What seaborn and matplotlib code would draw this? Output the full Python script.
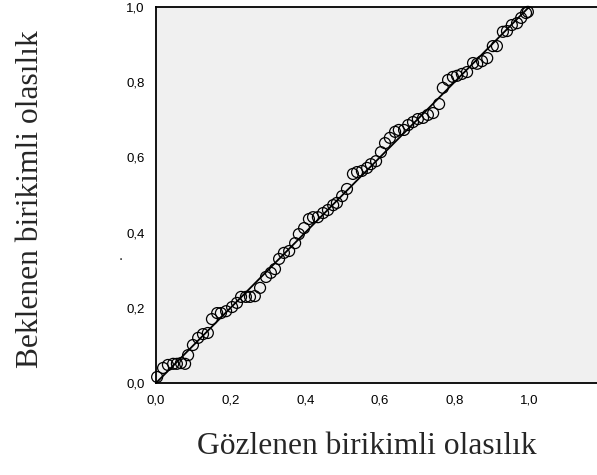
import matplotlib
matplotlib.use("Agg")
import matplotlib.pyplot as plt
import numpy as np
import pandas as pd
import seaborn as sns

# Observed vs expected cumulative probabilities (P-P plot)
observed = [
    0.003, 0.019, 0.032, 0.046, 0.056, 0.067, 0.078, 0.086, 0.099, 0.113,
    0.126, 0.139, 0.150, 0.164, 0.174, 0.188, 0.204, 0.217, 0.228, 0.241,
    0.252, 0.265, 0.279, 0.295, 0.308, 0.319, 0.330, 0.343, 0.357, 0.373,
    0.383, 0.397, 0.410, 0.421, 0.434, 0.448, 0.461, 0.475, 0.485, 0.499,
    0.512, 0.528, 0.539, 0.552, 0.566, 0.576, 0.590, 0.603, 0.614, 0.627,
    0.641, 0.651, 0.665, 0.676, 0.689, 0.702, 0.716, 0.729, 0.743, 0.759,
    0.769, 0.783, 0.796, 0.807, 0.820, 0.834, 0.850, 0.861, 0.874, 0.888,
    0.903, 0.914, 0.930, 0.941, 0.954, 0.968, 0.979, 0.992, 0.997,
]
expected = [
    0.016, 0.040, 0.048, 0.051, 0.051, 0.053, 0.051, 0.074, 0.101, 0.120,
    0.130, 0.133, 0.170, 0.186, 0.186, 0.191, 0.202, 0.213, 0.229, 0.229,
    0.229, 0.231, 0.253, 0.282, 0.293, 0.303, 0.330, 0.346, 0.351, 0.372,
    0.396, 0.412, 0.436, 0.441, 0.441, 0.452, 0.460, 0.473, 0.479, 0.497,
    0.516, 0.556, 0.561, 0.564, 0.572, 0.582, 0.590, 0.614, 0.638, 0.652,
    0.668, 0.673, 0.673, 0.686, 0.694, 0.702, 0.705, 0.713, 0.718, 0.742,
    0.785, 0.806, 0.814, 0.817, 0.822, 0.827, 0.851, 0.849, 0.856, 0.864,
    0.896, 0.896, 0.934, 0.936, 0.952, 0.957, 0.971, 0.984, 0.987,
]
ref_line = [0.0, 1.0]
ticks = [0.0, 0.2, 0.4, 0.6, 0.8, 1.0]
tick_labels = ["0,0", "0,2", "0,4", "0,6", "0,8", "1,0"]

df = pd.DataFrame({"observed": observed, "expected": expected})
line_df = pd.DataFrame({"x": ref_line, "y": ref_line})

sns.set_style("white")
plt.rcParams["font.family"] = ["Liberation Sans", "DejaVu Sans"]

W, H = 597, 475
fig = plt.figure(figsize=(W / 100, H / 100), dpi=100)
left, right, top, bottom = 156, 597, 7, 383
ax = fig.add_axes([left / W, 1 - bottom / H, (right - left) / W, (bottom - top) / H])
ax.set_facecolor("#f0f0f0")

sns.lineplot(data=line_df, x="x", y="y", ax=ax, color="black", linewidth=1.3,
             zorder=2)
sns.scatterplot(data=df, x="observed", y="expected", ax=ax, marker="o",
                s=62, facecolor="none", edgecolor="black", linewidth=0.9,
                zorder=3, clip_on=False)

ax.set_xlim(0, (right - left) / 373)
ax.set_ylim(0, 1.0)
ax.set_xticks(ticks)
ax.set_xticklabels(tick_labels)
ax.set_yticks(ticks)
ax.set_yticklabels(tick_labels)
ax.tick_params(axis="both", direction="out", length=6, width=1.3,
               color="black", labelsize=9.5, labelcolor="black", pad=2)
ax.set_xlabel("")
ax.set_ylabel("")

for side in ["left", "bottom", "top"]:
    ax.spines[side].set_visible(True)
    ax.spines[side].set_color("black")
    ax.spines[side].set_linewidth(1.3)
ax.spines["right"].set_visible(False)

serif = ["Liberation Serif", "DejaVu Serif"]
fig.text(367 / W, 1 - 446 / H, "Gözlenen birikimli olasılık", ha="center",
         va="center", fontsize=22.7, family=serif)
fig.text(31 / W, 1 - 199 / H, "Beklenen birikimli olasılık", ha="center",
         va="center", rotation=90, fontsize=22.7, family=serif)
fig.text(121 / W, 1 - 256 / H, ".", ha="center", va="center", fontsize=11)

fig.savefig("out.png", dpi=100)
